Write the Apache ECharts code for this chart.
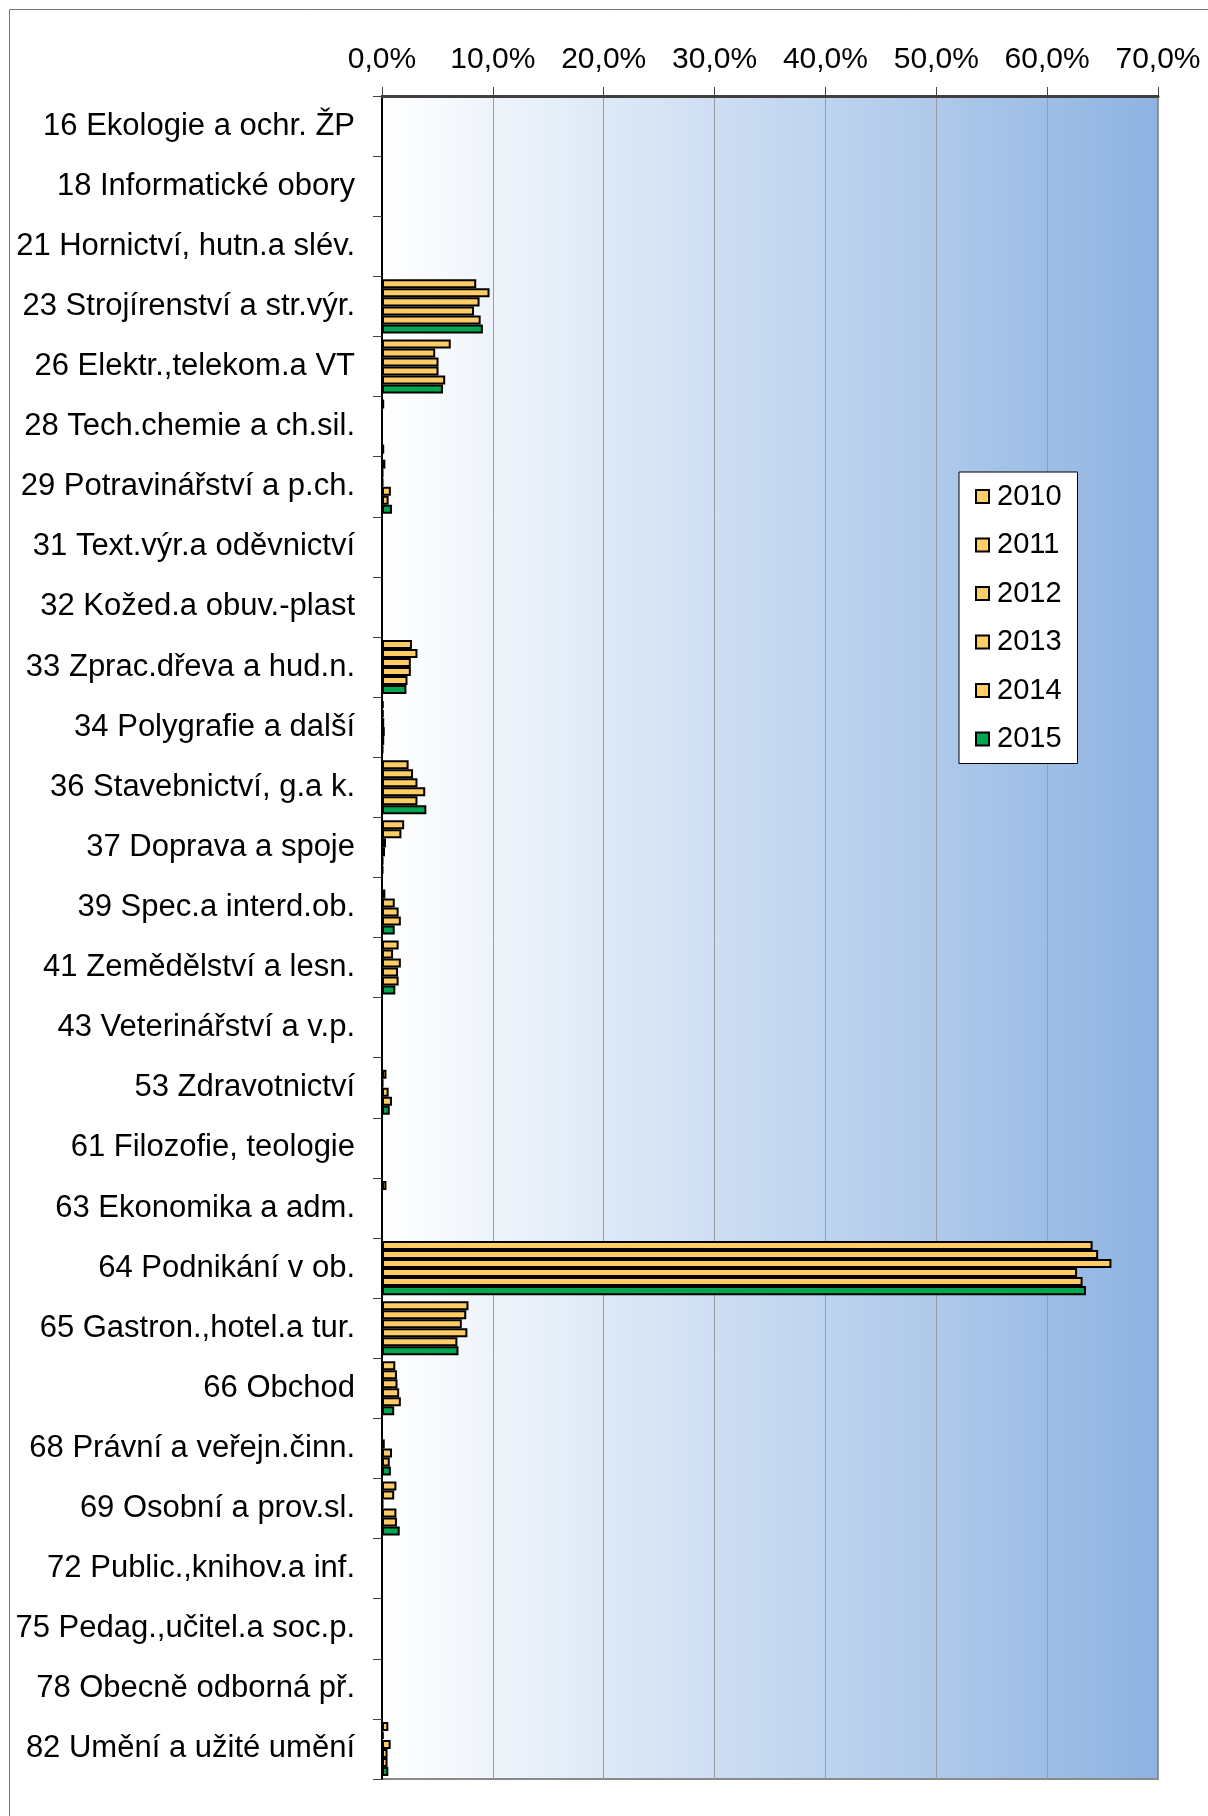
<!DOCTYPE html>
<html>
<head>
<meta charset="utf-8">
<script src="https://cdn.jsdelivr.net/npm/echarts@6/dist/echarts.min.js"></script>
<style>
html,body{margin:0;padding:0;background:#fff;}
#chart{width:1208px;height:1816px;}
</style>
</head>
<body>
<div id="chart"></div>
<script>
const categories = ["16 Ekologie a ochr. ŽP", "18 Informatické obory", "21 Hornictví, hutn.a slév.", "23 Strojírenství a str.výr.", "26 Elektr.,telekom.a VT", "28 Tech.chemie a ch.sil.", "29 Potravinářství a p.ch.", "31 Text.výr.a oděvnictví", "32 Kožed.a obuv.-plast", "33 Zprac.dřeva a hud.n.", "34 Polygrafie a další", "36 Stavebnictví, g.a k.", "37 Doprava a spoje", "39 Spec.a interd.ob.", "41 Zemědělství a lesn.", "43 Veterinářství a v.p.", "53 Zdravotnictví", "61 Filozofie, teologie", "63 Ekonomika a adm.", "64 Podnikání v ob.", "65 Gastron.,hotel.a tur.", "66 Obchod", "68 Právní a veřejn.činn.", "69 Osobní a prov.sl.", "72 Public.,knihov.a inf.", "75 Pedag.,učitel.a soc.p.", "78 Obecně odborná př.", "82 Umění a užité umění"];

const years = ["2010", "2011", "2012", "2013", "2014", "2015"];

const v2010 = [0, 0, 0, 8.5, 6.2, 0.2, 0.3, 0, 0, 2.7, 0.15, 2.4, 2.0, 0, 1.5, 0, 0, 0, 0.4, 64.1, 7.8, 1.2, 0, 1.3, 0, 0, 0, 0.57];
const v2011 = [0, 0, 0, 9.7, 4.8, 0, 0.1, 0, 0, 3.2, 0.15, 2.8, 1.75, 0.3, 1.0, 0, 0.4, 0, 0, 64.6, 7.6, 1.35, 0, 1.1, 0, 0, 0, 0.15];
const v2012 = [0, 0, 0, 8.8, 5.1, 0, 0.1, 0, 0, 2.6, 0.2, 3.2, 0.36, 1.15, 1.7, 0, 0.1, 0, 0, 65.8, 7.2, 1.4, 0.25, 0.1, 0, 0, 0, 0.78];
const v2013 = [0, 0, 0, 8.3, 5.1, 0, 0.8, 0, 0, 2.6, 0.25, 3.9, 0.27, 1.5, 1.45, 0, 0.6, 0, 0, 62.7, 7.7, 1.55, 0.9, 1.3, 0, 0, 0, 0.5];
const v2014 = [0, 0, 0, 8.9, 5.7, 0, 0.6, 0, 0, 2.3, 0.2, 3.2, 0.1, 1.7, 1.5, 0, 0.9, 0, 0, 63.2, 6.8, 1.7, 0.7, 1.35, 0, 0, 0, 0.5];
const v2015 = [0, 0, 0, 9.1, 5.5, 0.2, 0.9, 0, 0, 2.2, 0.1, 4.0, 0.1, 1.15, 1.2, 0, 0.7, 0, 0, 63.5, 6.9, 1.1, 0.8, 1.6, 0, 0, 0, 0.57];

const xTicks = [0, 10, 20, 30, 40, 50, 60, 70];

const seriesValues = [v2010, v2011, v2012, v2013, v2014, v2015];
const ORANGE = '#FFCC66';
const GREEN = '#00A650';
const FONT = '"Liberation Sans", Arial, sans-serif';

const chart = echarts.init(document.getElementById('chart'), null, {renderer: 'canvas'});

const series = years.map((y, i) => ({
  name: y,
  type: 'bar',
  data: seriesValues[i],
  barGap: '0%',
  barCategoryGap: '10%',
  itemStyle: {
    color: i === 5 ? GREEN : ORANGE,
    borderColor: '#000',
    borderWidth: 2
  },
  emphasis: {disabled: true},
  animation: false
}));

chart.setOption({
  animation: false,
  backgroundColor: '#fff',
  textStyle: {fontFamily: FONT},
  graphic: [{
    type: 'rect',
    shape: {x: 9.5, y: 9.5, width: 1400, height: 2000},
    style: {fill: null, stroke: '#777', lineWidth: 1},
    silent: true,
    z: 100
  }],
  grid: {
    left: 382, right: 50, top: 96, bottom: 37,
    show: true,
    borderColor: '#8a8a8a',
    borderWidth: 2,
    backgroundColor: {
      type: 'linear', x: 0, y: 0, x2: 1, y2: 0,
      colorStops: [{offset: 0, color: '#ffffff'}, {offset: 1, color: '#8DB3E2'}]
    }
  },
  legend: {
    orient: 'vertical',
    left: 959,
    top: 472,
    padding: [10, 16, 10, 16],
    backgroundColor: '#fff',
    borderColor: '#000',
    borderWidth: 1,
    itemWidth: 13,
    itemHeight: 13,
    itemGap: 19.5,
    icon: 'rect',
    textStyle: {fontSize: 29, lineHeight: 28, color: '#000', fontFamily: FONT, padding: [0, 0, 0, 3]},
    data: years
  },
  xAxis: {
    type: 'value',
    position: 'top',
    min: 0, max: 70, interval: 10,
    axisLine: {show: true, lineStyle: {color: '#404040', width: 3}},
    axisTick: {show: true, length: 9, lineStyle: {color: '#404040', width: 1}},
    splitLine: {show: true, lineStyle: {color: '#9a9a9a', width: 1}},
    axisLabel: {
      fontSize: 30, color: '#000', fontFamily: FONT, margin: 21,
      formatter: v => v.toFixed(1).replace('.', ',') + '%'
    }
  },
  yAxis: {
    type: 'category',
    inverse: true,
    data: categories,
    axisLine: {show: true, lineStyle: {color: '#000', width: 2}},
    axisTick: {show: true, length: 9, lineStyle: {color: '#404040', width: 1}},
    axisLabel: {fontSize: 31, color: '#000', fontFamily: FONT, margin: 27}
  },
  series: series
});
</script>
</body>
</html>
